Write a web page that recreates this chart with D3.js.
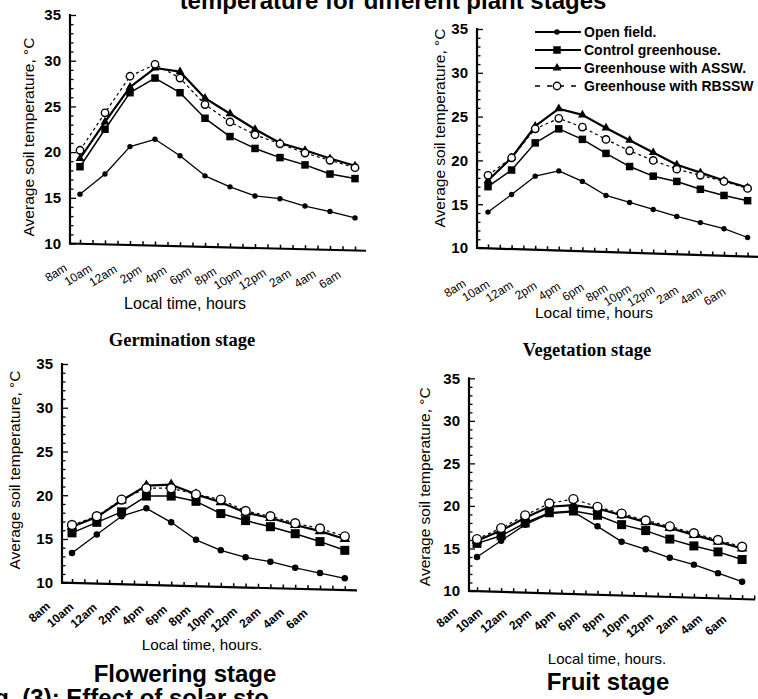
<!DOCTYPE html>
<html>
<head>
<meta charset="utf-8">
<script src="https://cdn.jsdelivr.net/npm/d3@7"></script>
<style>
  html, body { margin: 0; padding: 0; background: #fff; }
  svg { display: block; }
</style>
</head>
<body>
<script>
// ---- data -------------------------------------------------------------
const times = ["8am", "10am", "12am", "2pm", "4pm", "6pm", "8pm", "10pm", "12pm", "2am", "4am", "6am"];
const yTicks = [10, 15, 20, 25, 30, 35];
const seriesNames = ["Open field.", "Control greenhouse.", "Greenhouse with ASSW.", "Greenhouse with RBSSW"];
const stageNames = ["Germination stage", "Vegetation stage", "Flowering stage", "Fruit stage"];

// Germination stage
const germOpen    = [15.4, 17.6, 20.6, 21.4, 19.6, 17.4, 16.2, 15.2, 14.9, 14.1, 13.5, 12.8];
const germControl = [18.4, 22.5, 26.5, 28.1, 26.5, 23.7, 21.7, 20.4, 19.4, 18.6, 17.6, 17.1];
const germASSW    = [19.3, 23.3, 27.1, 29.2, 28.8, 25.9, 24.2, 22.5, 21.0, 20.2, 19.3, 18.5];
const germRBSSW   = [20.2, 24.3, 28.3, 29.6, 28.1, 25.2, 23.3, 21.9, 20.9, 19.9, 19.1, 18.3];
// Vegetation stage
const vegOpen     = [14.1, 16.1, 18.2, 18.8, 17.6, 16.0, 15.2, 14.4, 13.6, 12.9, 12.2, 11.2];
const vegControl  = [17.0, 18.9, 22.0, 23.6, 22.4, 20.8, 19.3, 18.2, 17.6, 16.7, 16.0, 15.4];
const vegASSW     = [17.7, 20.3, 23.9, 25.9, 25.2, 23.7, 22.3, 20.9, 19.5, 18.6, 17.7, 16.9];
const vegRBSSW    = [18.3, 20.3, 23.6, 24.8, 23.8, 22.4, 21.1, 20.0, 19.0, 18.3, 17.6, 16.8];
// Flowering stage
const flowOpen    = [13.4, 15.5, 17.6, 18.5, 16.9, 14.9, 13.7, 12.9, 12.4, 11.7, 11.1, 10.5];
const flowControl = [15.7, 16.9, 18.1, 19.9, 19.9, 19.3, 17.9, 17.1, 16.4, 15.6, 14.7, 13.7];
const flowASSW    = [16.4, 17.5, 19.4, 21.1, 21.2, 20.1, 19.2, 18.0, 17.4, 16.6, 15.9, 15.0];
const flowRBSSW   = [16.6, 17.6, 19.5, 20.8, 20.8, 20.1, 19.5, 18.2, 17.6, 16.8, 16.2, 15.3];
// Fruit stage
const fruitOpen    = [14.0, 15.9, 17.8, 19.1, 19.3, 17.6, 15.8, 14.9, 13.9, 13.1, 12.1, 11.1];
const fruitControl = [15.6, 16.5, 18.0, 19.2, 19.4, 18.9, 17.8, 17.1, 16.1, 15.3, 14.6, 13.7];
const fruitASSW    = [15.9, 17.1, 18.6, 19.9, 20.1, 19.7, 18.9, 18.1, 17.4, 16.6, 15.8, 15.0];
const fruitRBSSW   = [16.1, 17.4, 18.9, 20.3, 20.8, 19.9, 19.1, 18.3, 17.6, 16.8, 16.0, 15.2];

const figureTitle = "temperature for different plant stages";
const figureCaption = "Fig. (3): Effect of solar sto";
const yTitleText = "Average soil temperature, \u00B0C";

// ---- layout -----------------------------------------------------------
const W = 758, H = 699;
const sans = "'Liberation Sans', Arial, Helvetica, sans-serif";
const serif = "'Liberation Serif', 'Times New Roman', serif";

const panels = [
  { series: [germOpen, germControl, germASSW, germRBSSW], stage: stageNames[0],
    axisX: 70, y35: 15, y10: 243.5, x0: 80, step: 25, xEnd: 366,
    lab0: 68, labStep: 24.9, labDy: 26.5, labRot: -33, labBold: false, shear: 1.4,
    yTitle: [28, 137], xTitle: { x: 185, y: 309, size: 16, text: "Local time, hours" },
    stageLbl: { x: 182, y: 346, font: serif, size: 18.5 }, mk: 1.0 },
  { series: [vegOpen, vegControl, vegASSW, vegRBSSW], stage: stageNames[1],
    axisX: 477, y35: 29, y10: 248, x0: 488, step: 23.6, xEnd: 758,
    lab0: 467, labStep: 23.6, labDy: 38, labRot: -33, labBold: false, shear: 1.8,
    yTitle: [439.5, 128], xTitle: { x: 594, y: 318, size: 15.5, text: "Local time, hours" },
    stageLbl: { x: 587, y: 356, font: serif, size: 18.5 }, mk: 1.0, legend: true },
  { series: [flowOpen, flowControl, flowASSW, flowRBSSW], stage: stageNames[2],
    axisX: 62, y35: 364, y10: 582.7, x0: 72, step: 24.8, xEnd: 357,
    lab0: 51, labStep: 23.4, labDy: 25, labRot: -42, labBold: true, shear: 1.5,
    yTitle: [14, 470], xTitle: { x: 202, y: 650, size: 15.3, text: "Local time, hours." },
    stageLbl: { x: 185, y: 682, font: sans, size: 24 }, mk: 1.2 },
  { series: [fruitOpen, fruitControl, fruitASSW, fruitRBSSW], stage: stageNames[3],
    axisX: 469, y35: 378.3, y10: 591, x0: 477, step: 24.1, xEnd: 755,
    lab0: 459, labStep: 24.4, labDy: 22, labRot: -41, labBold: true, shear: 1.7,
    yTitle: [424.5, 486.7], xTitle: { x: 607, y: 664, size: 15, text: "Local time, hours." },
    stageLbl: { x: 608, y: 690, font: sans, size: 24 }, mk: 1.2 }
];

const svg = d3.select("body").append("svg")
  .attr("width", W).attr("height", H)
  .attr("viewBox", `0 0 ${W} ${H}`);

svg.append("rect").attr("width", W).attr("height", H).attr("fill", "#fff");

// line styles for the four treatments
const lineStyle = [
  { width: 1.3, dash: null },
  { width: 1.5, dash: null },
  { width: 2.2, dash: null },
  { width: 1.2, dash: "3,3" }
];

function drawMarker(g, kind, cx, cy, k) {
  if (kind === 0) {
    g.append("circle").attr("cx", cx).attr("cy", cy).attr("r", 2.7 * k).attr("fill", "#000");
  } else if (kind === 1) {
    const s = 7.5 * k;
    g.append("rect").attr("x", cx - s / 2).attr("y", cy - s / 2)
      .attr("width", s).attr("height", s).attr("fill", "#000");
  } else if (kind === 2) {
    g.append("path")
      .attr("d", d3.symbol().type(d3.symbolTriangle).size(34 * k * k)())
      .attr("transform", `translate(${cx},${cy})`).attr("fill", "#000");
  } else {
    g.append("circle").attr("cx", cx).attr("cy", cy).attr("r", 3.7 * k)
      .attr("fill", "#fff").attr("stroke", "#000").attr("stroke-width", 1.4);
  }
}

panels.forEach(p => {
  const y = d3.scaleLinear().domain([10, 35]).range([p.y10, p.y35]);
  const x = d3.scaleLinear().domain([0, times.length - 1])
    .range([p.x0, p.x0 + (times.length - 1) * p.step]);
  const xLab = d3.scalePoint().domain(times)
    .range([p.lab0, p.lab0 + (times.length - 1) * p.labStep]);

  const g = svg.append("g");

  // y axis: line, minor ticks every degree, labels every 5 degrees
  const yAx = g.append("g").attr("transform", `translate(${p.axisX},0)`);
  yAx.call(d3.axisRight(y).tickValues(d3.range(10, 36, 1)).tickSize(4).tickFormat(""));
  yAx.select(".domain").remove();
  yAx.selectAll(".tick line")
    .attr("x2", d => (d % 5 === 0 ? 6 : 3.5))
    .attr("stroke", "#000").attr("stroke-width", 1.3);
  yAx.append("line").attr("x1", 0).attr("x2", 0)
    .attr("y1", y(35) - 1).attr("y2", p.y10 + 1)
    .attr("stroke", "#000").attr("stroke-width", 2.2);

  const yLab = g.append("g").attr("transform", `translate(${p.axisX},0)`);
  yLab.call(d3.axisLeft(y).tickValues(yTicks).tickSize(0).tickPadding(9));
  yLab.select(".domain").remove();
  yLab.selectAll("text")
    .attr("font-family", sans).attr("font-size", 15).attr("font-weight", "bold")
    .attr("fill", "#000");

  // x axis (slightly sheared, as printed)
  const xAx = g.append("g")
    .attr("transform", `translate(${p.axisX},${p.y10}) skewY(${p.shear}) translate(${-p.axisX},0)`);
  const kMin = Math.ceil(2 * (p.axisX - p.x0) / p.step);
  const kMax = Math.floor(2 * (p.xEnd - p.x0) / p.step);
  const half = d3.range(kMin, kMax + 1).map(k => k / 2);
  const xAxisGen = d3.axisTop(x).tickValues(half).tickSize(4).tickFormat("");
  xAx.call(xAxisGen);
  xAx.select(".domain").remove();
  xAx.selectAll(".tick line").attr("stroke", "#000").attr("stroke-width", 1.5);
  xAx.append("line").attr("x1", p.axisX - 1).attr("x2", p.xEnd)
    .attr("y1", 0).attr("y2", 0).attr("stroke", "#000").attr("stroke-width", 2.2);

  xAx.selectAll("text.xl").data(times).join("text")
    .attr("class", "xl")
    .attr("transform", d => `translate(${xLab(d)},${p.labDy}) rotate(${p.labRot})`)
    .attr("text-anchor", "end")
    .attr("font-family", sans).attr("font-size", 12)
    .attr("font-weight", p.labBold ? "bold" : "normal")
    .attr("fill", "#000")
    .text(d => d);

  // axis titles
  g.append("text")
    .attr("transform", `translate(${p.yTitle[0]},${p.yTitle[1]}) rotate(-90)`)
    .attr("text-anchor", "middle").attr("dominant-baseline", "central")
    .attr("font-family", sans).attr("font-size", 15.5).attr("fill", "#000")
    .text(yTitleText);
  g.append("text")
    .attr("x", p.xTitle.x).attr("y", p.xTitle.y)
    .attr("text-anchor", "middle")
    .attr("font-family", sans).attr("font-size", p.xTitle.size).attr("fill", "#000")
    .text(p.xTitle.text);

  // series lines then markers
  const line = d3.line().x((d, i) => x(i)).y(d => y(d));
  p.series.forEach((vals, si) => {
    const st = lineStyle[si];
    g.append("path").datum(vals)
      .attr("d", line)
      .attr("fill", "none").attr("stroke", "#000")
      .attr("stroke-width", st.width)
      .attr("stroke-dasharray", st.dash)
      .attr("stroke-linejoin", "round");
  });
  p.series.forEach((vals, si) => {
    const mg = g.append("g");
    vals.forEach((v, i) => drawMarker(mg, si, x(i), y(v), p.mk));
  });

  // stage label
  g.append("text")
    .attr("x", p.stageLbl.x).attr("y", p.stageLbl.y)
    .attr("text-anchor", "middle")
    .attr("font-family", p.stageLbl.font).attr("font-size", p.stageLbl.size)
    .attr("font-weight", "bold").attr("fill", "#000")
    .text(p.stage);

  // legend
  if (p.legend) {
    const lg = svg.append("g");
    const rowY = [32, 50, 68, 86];
    const lx1 = 535, lx2 = 581, lmid = 557;
    seriesNames.forEach((name, si) => {
      lg.append("line").attr("x1", lx1).attr("x2", lx2)
        .attr("y1", rowY[si]).attr("y2", rowY[si])
        .attr("stroke", "#000").attr("stroke-width", si === 3 ? 1.4 : 2.2)
        .attr("stroke-dasharray", si === 3 ? "5,7" : null);
      drawMarker(lg, si, lmid, rowY[si], 1);
      lg.append("text").attr("x", 584).attr("y", rowY[si])
        .attr("dominant-baseline", "central")
        .attr("font-family", sans).attr("font-size", 14).attr("font-weight", "bold")
        .attr("fill", "#000")
        .text(name);
    });
  }
});

// figure heading and caption (both run past the page edge)
svg.append("text")
  .attr("x", 393).attr("y", 9)
  .attr("text-anchor", "middle")
  .attr("font-family", sans).attr("font-size", 24).attr("font-weight", "bold")
  .attr("fill", "#000")
  .text(figureTitle);

svg.append("text")
  .attr("x", -27).attr("y", 706)
  .attr("font-family", sans).attr("font-size", 24).attr("font-weight", "bold")
  .attr("fill", "#000")
  .text(figureCaption);
</script>
</body>
</html>
